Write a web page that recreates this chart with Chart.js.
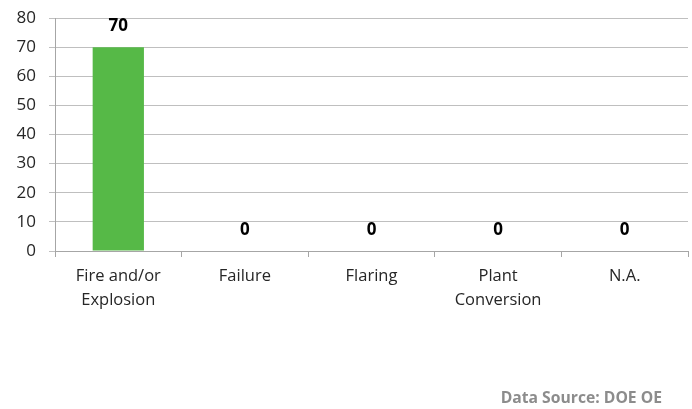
<!DOCTYPE html>
<html>
<head>
<meta charset="utf-8">
<script src="https://cdn.jsdelivr.net/npm/chart.js@4"></script>
<style>
  html, body { margin: 0; padding: 0; background: #fff; }
  #wrap { width: 692px; height: 409px; }
</style>
</head>
<body>
<div id="wrap"><canvas id="causeChart" width="692" height="409"></canvas></div>
<script>
try {

    // Chart data
    const categories = [['Fire and/or', 'Explosion'], 'Failure', 'Flaring', ['Plant', 'Conversion'], 'N.A.'];
    const eventCounts = [70, 0, 0, 0, 0];
    const yTicks = [0, 10, 20, 30, 40, 50, 60, 70, 80];
    const sourceNote = 'Data Source: DOE OE';

    const fontFamily = '"Open Sans", sans-serif';

    // Value labels above each bar
    const valueLabels = {
      id: 'valueLabels',
      afterDatasetsDraw(chart) {
        const ctx = chart.ctx;
        const meta = chart.getDatasetMeta(0);
        ctx.save();
        ctx.font = 'bold 17px ' + fontFamily;
        ctx.fillStyle = '#000';
        ctx.textAlign = 'center';
        ctx.textBaseline = 'middle';
        meta.data.forEach((bar, i) => {
          ctx.fillText(String(eventCounts[i]), bar.x, bar.y - 21);
        });
        ctx.restore();
      }
    };

    // Source note at the bottom right
    const sourceText = {
      id: 'sourceText',
      afterDraw(chart) {
        const ctx = chart.ctx;
        ctx.save();
        ctx.font = 'bold 15.7px ' + fontFamily;
        ctx.fillStyle = '#8c8c8c';
        ctx.textAlign = 'right';
        ctx.textBaseline = 'middle';
        ctx.fillText(sourceNote, 662, 399);
        ctx.restore();
      }
    };

    const ctx = document.getElementById('causeChart').getContext('2d');
    new Chart(ctx, {
      type: 'bar',
      data: {
        labels: categories,
        datasets: [{
          data: eventCounts,
          backgroundColor: '#56b947',
          borderWidth: 0,
          categoryPercentage: 1,
          barPercentage: 0.405
        }]
      },
      options: {
        responsive: false,
        animation: false,
        layout: { padding: { top: 18, right: 4, left: 0, bottom: 0 } },
        plugins: {
          legend: { display: false },
          tooltip: { enabled: false }
        },
        scales: {
          x: {
            offset: true,
            grid: {
              offset: true,
              drawOnChartArea: false,
              tickLength: 6,
              color: '#a6a6a6'
            },
            border: { color: '#a6a6a6' },
            ticks: {
              color: '#262626',
              padding: 8,
              maxRotation: 0,
              font: { family: fontFamily, size: 16.5, lineHeight: 1.42 }
            },
            afterFit(scale) { scale.height = 158; }
          },
          y: {
            min: 0,
            max: 80,
            afterBuildTicks(scale) {
              scale.ticks = yTicks.map(v => ({ value: v }));
            },
            grid: {
              color: '#bfbfbf',
              tickLength: 6
            },
            border: { color: '#a6a6a6' },
            ticks: {
              color: '#262626',
              padding: 13,
              font: { family: fontFamily, size: 17 }
            },
            afterFit(scale) {
              scale.width = 55;
              scale.paddingTop = 0;
              scale.paddingBottom = 0;
            }
          }
        }
      },
      plugins: [valueLabels, sourceText]
    });

} catch (e) {
    console.log(e);
}
</script>
</body>
</html>
